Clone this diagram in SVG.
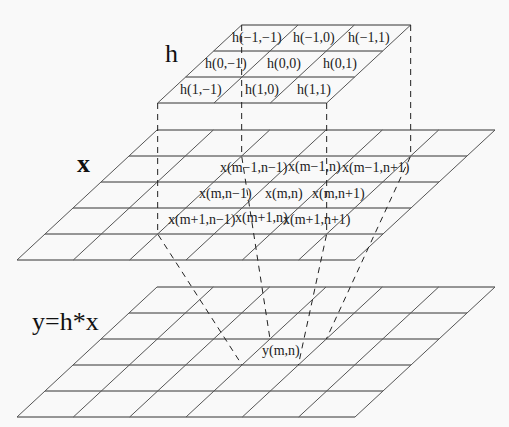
<svg xmlns="http://www.w3.org/2000/svg" width="509" height="427" viewBox="0 0 509 427">
<style>
.bg{fill:#f9f9f9}
.h{stroke:#333;stroke-width:1;fill:none}
.s{stroke:#555;stroke-width:1;fill:none}
.d{stroke:#222;stroke-width:1;fill:none;stroke-dasharray:6,5}
.t{font-family:"Liberation Serif","Times New Roman",serif;font-size:14px;fill:#222}
.big{font-family:"Liberation Serif","Times New Roman",serif;font-size:26px;fill:#111}
</style>
<rect class="bg" x="0" y="0" width="509" height="427"/>
<g id="x-plane">
<path class="h" d="M17,260H355M45,234H383M73,208H411M101,182H439M129,156H467M157,130H495"/>
<path class="s" d="M17,260L157,130M73.33,260L213.33,130M129.67,260L269.67,130M186,260L326,130M242.33,260L382.33,130M298.67,260L438.67,130M355,260L495,130"/>
</g>
<g id="y-plane">
<path class="h" d="M17,417H355M45,391H383M73,365H411M101,339H439M129,313H467M157,287H495"/>
<path class="s" d="M17,417L157,287M73.33,417L213.33,287M129.67,417L269.67,287M186,417L326,287M242.33,417L382.33,287M298.67,417L438.67,287M355,417L495,287"/>
</g>
<g id="h-plane">
<path class="h" d="M157.67,103H326.67M185.67,77H354.67M213.67,51H382.67M241.67,25H410.67"/>
<path class="s" d="M157.67,103L241.67,25M214,103L298,25M270.33,103L354.33,25M326.67,103L410.67,25"/>
</g>
<g id="connectors">
<path class="d" d="M157.67,103V234L242,365"/>
<path class="d" d="M241.67,25V156L270,339"/>
<path class="d" d="M326.67,103V234L298.33,365"/>
<path class="d" d="M410.67,25V156L326.33,339"/>
</g>
<g id="labels">
<text class="big" x="165" y="62">h</text>
<text class="big" x="77" y="172" font-weight="bold">x</text>
<text class="big" x="32" y="330">y=h*x</text>
</g>
<g id="h-values" class="t">
<text class="t" x="232" y="42">h(−1,−1)</text>
<text class="t" x="293" y="42">h(−1,0)</text>
<text class="t" x="348" y="42">h(−1,1)</text>
<text class="t" x="205" y="68">h(0,−1)</text>
<text class="t" x="267" y="68">h(0,0)</text>
<text class="t" x="323" y="68">h(0,1)</text>
<text class="t" x="180" y="94">h(1,−1)</text>
<text class="t" x="245" y="94">h(1,0)</text>
<text class="t" x="297" y="94">h(1,1)</text>
</g>
<g id="x-values">
<text class="t" x="220" y="172">x(m−1,n−1)</text>
<text class="t" x="288" y="171">x(m−1,n)</text>
<text class="t" x="342" y="172">x(m−1,n+1)</text>
<text class="t" x="199" y="198">x(m,n−1)</text>
<text class="t" x="265" y="198">x(m,n)</text>
<text class="t" x="312" y="198">x(m,n+1)</text>
<text class="t" x="168" y="224">x(m+1,n−1)</text>
<text class="t" x="235" y="222">x(m+1,n)</text>
<text class="t" x="283" y="224">x(m+1,n+1)</text>
</g>
<g id="y-values">
<text class="t" x="262" y="355">y(m,n)</text>
</g>
</svg>
